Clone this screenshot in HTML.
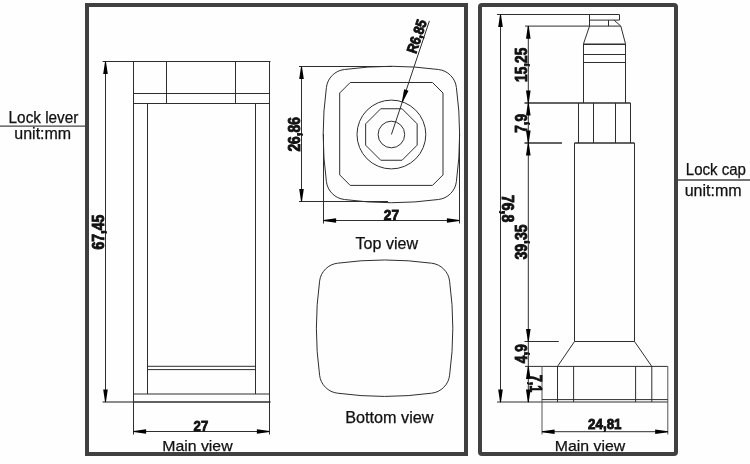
<!DOCTYPE html>
<html><head><meta charset="utf-8"><title>Lock dimensions</title>
<style>
html,body{margin:0;padding:0;background:#fefefe;}
body{width:750px;height:464px;overflow:hidden;}
svg{display:block;filter:grayscale(1);font-family:"Liberation Sans",sans-serif;fill:#111;}
</style></head><body>
<svg width="750" height="464" viewBox="0 0 750 464">
<g opacity="0.999">
<rect x="87" y="5" width="379" height="449" fill="none" stroke="#404040" stroke-width="4"/>
<rect x="480" y="5" width="196" height="449" fill="none" stroke="#404040" stroke-width="4" rx="2"/>
<line x1="0" y1="126.2" x2="85" y2="126.2" stroke="#444" stroke-width="1.3"/>
<line x1="678" y1="180" x2="750" y2="180" stroke="#444" stroke-width="1.3"/>
<text x="8.6" y="122.7" font-size="15.6" stroke="#111" stroke-width="0.25" textLength="69.8" lengthAdjust="spacingAndGlyphs" text-anchor="start">Lock lever</text>
<text x="14.3" y="139.4" font-size="15.6" stroke="#111" stroke-width="0.25" textLength="56.9" lengthAdjust="spacingAndGlyphs" text-anchor="start">unit:mm</text>
<text x="685.8" y="175" font-size="15.6" stroke="#111" stroke-width="0.25" textLength="60.2" lengthAdjust="spacingAndGlyphs" text-anchor="start">Lock cap</text>
<text x="684.7" y="196" font-size="15.6" stroke="#111" stroke-width="0.25" textLength="57" lengthAdjust="spacingAndGlyphs" text-anchor="start">unit:mm</text>
<line x1="102.6" y1="61.5" x2="270.5" y2="61.5" stroke="#2e2e2e" stroke-width="1"/>
<line x1="102.6" y1="402" x2="133.5" y2="402" stroke="#2e2e2e" stroke-width="1.1"/>
<line x1="133.5" y1="402" x2="270.5" y2="402" stroke="#2e2e2e" stroke-width="1.5"/>
<line x1="105.5" y1="61.5" x2="105.5" y2="402" stroke="#2e2e2e" stroke-width="1"/>
<polygon points="105.95,61.50 107.80,74.10 103.20,74.10 105.05,61.50" fill="#000"/>
<polygon points="105.05,402.00 103.20,389.40 107.80,389.40 105.95,402.00" fill="#000"/>
<line x1="133.5" y1="61.5" x2="133.5" y2="434.5" stroke="#2e2e2e" stroke-width="1"/>
<line x1="269.5" y1="61.5" x2="269.5" y2="434.5" stroke="#2e2e2e" stroke-width="1"/>
<line x1="166.5" y1="61.5" x2="166.5" y2="103.5" stroke="#2e2e2e" stroke-width="1"/>
<line x1="235.5" y1="61.5" x2="235.5" y2="103.5" stroke="#2e2e2e" stroke-width="1"/>
<line x1="133.5" y1="93.5" x2="269.5" y2="93.5" stroke="#2e2e2e" stroke-width="1"/>
<line x1="133.5" y1="103.5" x2="269.5" y2="103.5" stroke="#2e2e2e" stroke-width="1"/>
<line x1="147.5" y1="103.5" x2="147.5" y2="394" stroke="#2e2e2e" stroke-width="1"/>
<line x1="255.5" y1="103.5" x2="255.5" y2="394" stroke="#2e2e2e" stroke-width="1"/>
<line x1="147.5" y1="366.3" x2="255.5" y2="366.3" stroke="#2e2e2e" stroke-width="1"/>
<line x1="147.5" y1="369.6" x2="255.5" y2="369.6" stroke="#2e2e2e" stroke-width="1"/>
<line x1="133.5" y1="394" x2="269.5" y2="394" stroke="#2e2e2e" stroke-width="1"/>
<line x1="133.5" y1="431.5" x2="269.5" y2="431.5" stroke="#2e2e2e" stroke-width="1"/>
<polygon points="133.50,431.05 146.10,429.20 146.10,433.80 133.50,431.95" fill="#000"/>
<polygon points="269.50,431.95 256.90,433.80 256.90,429.20 269.50,431.05" fill="#000"/>
<text x="193.6" y="430.9" font-size="15.5" font-weight="bold" stroke="#111" stroke-width="0.9" textLength="14.6" lengthAdjust="spacingAndGlyphs" text-anchor="start">27</text>
<text x="162.2" y="451.4" font-size="15.4" stroke="#111" stroke-width="0.25" textLength="70.4" lengthAdjust="spacingAndGlyphs" text-anchor="start">Main view</text>
<text x="104.0" y="232.1" font-size="16.2" font-weight="bold" stroke="#111" stroke-width="0.9" textLength="35" lengthAdjust="spacingAndGlyphs" transform="rotate(-90 104.0 232.1)" text-anchor="middle">67,45</text>
<path d="M344.4,69.5 A346,346 0 0 1 438.4,69.5 A20.5,20.5 0 0 1 456.4,87.5 A346,346 0 0 1 456.4,181.5 A20.5,20.5 0 0 1 438.4,199.5 A346,346 0 0 1 344.4,199.5 A20.5,20.5 0 0 1 326.4,181.5 A346,346 0 0 1 326.4,87.5 A20.5,20.5 0 0 1 344.4,69.5 Z" fill="none" stroke="#2e2e2e" stroke-width="1"/>
<path d="M350.2,82.5 L432.5,82.5 L443.0,93.0 L443.0,174.9 L432.5,185.4 L350.2,185.4 L339.7,174.9 L339.7,93.0 Z" fill="none" stroke="#2e2e2e" stroke-width="1"/>
<circle cx="391.4" cy="134.5" r="34.4" fill="none" stroke="#2e2e2e"/>
<polygon points="380.73,108.75 402.07,108.75 417.15,123.83 417.15,145.17 402.07,160.25 380.73,160.25 365.65,145.17 365.65,123.83" fill="none" stroke="#2e2e2e"/>
<circle cx="391.4" cy="134.5" r="13.3" fill="none" stroke="#2e2e2e"/>
<line x1="391.40" y1="134.50" x2="429.41" y2="20.89" stroke="#2e2e2e" stroke-width="1"/>
<polygon points="401.89,101.73 404.13,89.20 408.49,90.66 402.74,102.02" fill="#000"/>
<text x="416.03" y="54.27" font-size="14.6" font-weight="bold" stroke="#111" stroke-width="0.9" textLength="34.4" lengthAdjust="spacingAndGlyphs" transform="rotate(-71.5 416.03 54.27)">R6,85</text>
<line x1="299" y1="66.5" x2="392" y2="66.5" stroke="#2e2e2e" stroke-width="1"/>
<line x1="299" y1="201.5" x2="388" y2="201.5" stroke="#2e2e2e" stroke-width="1"/>
<line x1="301.5" y1="66.5" x2="301.5" y2="201.5" stroke="#2e2e2e" stroke-width="1"/>
<polygon points="301.95,66.50 303.80,79.10 299.20,79.10 301.05,66.50" fill="#000"/>
<polygon points="301.05,201.50 299.20,188.90 303.80,188.90 301.95,201.50" fill="#000"/>
<text x="299.9" y="134.3" font-size="16.2" font-weight="bold" stroke="#111" stroke-width="0.9" textLength="34.6" lengthAdjust="spacingAndGlyphs" transform="rotate(-90 299.9 134.3)" text-anchor="middle">26,86</text>
<line x1="323.5" y1="134" x2="323.5" y2="223.5" stroke="#2e2e2e" stroke-width="1"/>
<line x1="459.5" y1="134" x2="459.5" y2="223.5" stroke="#2e2e2e" stroke-width="1"/>
<line x1="323.5" y1="220.5" x2="459.5" y2="220.5" stroke="#2e2e2e" stroke-width="1"/>
<polygon points="323.50,220.05 336.10,218.20 336.10,222.80 323.50,220.95" fill="#000"/>
<polygon points="459.50,220.95 446.90,222.80 446.90,218.20 459.50,220.05" fill="#000"/>
<text x="383.8" y="219.8" font-size="15.5" font-weight="bold" stroke="#111" stroke-width="0.9" textLength="15.2" lengthAdjust="spacingAndGlyphs" text-anchor="start">27</text>
<text x="355.6" y="248.7" font-size="15.6" stroke="#111" stroke-width="0.25" textLength="62.4" lengthAdjust="spacingAndGlyphs" text-anchor="start">Top view</text>
<path d="M337.6,263.2 A346,346 0 0 1 431.6,263.2 A20.5,20.5 0 0 1 449.6,281.2 A346,346 0 0 1 449.6,375.2 A20.5,20.5 0 0 1 431.6,393.2 A346,346 0 0 1 337.6,393.2 A20.5,20.5 0 0 1 319.6,375.2 A346,346 0 0 1 319.6,281.2 A20.5,20.5 0 0 1 337.6,263.2 Z" fill="none" stroke="#2e2e2e" stroke-width="1"/>
<text x="345.2" y="423.1" font-size="15.6" stroke="#111" stroke-width="0.25" textLength="88.3" lengthAdjust="spacingAndGlyphs" text-anchor="start">Bottom view</text>
<line x1="497" y1="14.5" x2="619.5" y2="14.5" stroke="#2e2e2e" stroke-width="1"/>
<line x1="497" y1="402" x2="667.8" y2="402" stroke="#2e2e2e" stroke-width="1.1"/>
<line x1="500.5" y1="14.5" x2="500.5" y2="402.2" stroke="#2e2e2e" stroke-width="1"/>
<polygon points="500.95,14.50 502.80,27.10 498.20,27.10 500.05,14.50" fill="#000"/>
<polygon points="500.05,402.20 498.20,389.60 502.80,389.60 500.95,402.20" fill="#000"/>
<text x="502.4" y="208.6" font-size="15.8" font-weight="bold" stroke="#111" stroke-width="0.9" textLength="27.4" lengthAdjust="spacingAndGlyphs" transform="rotate(90 502.4 208.6)" text-anchor="middle">76,8</text>
<line x1="589.5" y1="14.5" x2="589.5" y2="26.1" stroke="#2e2e2e" stroke-width="1"/>
<line x1="619.5" y1="14.5" x2="619.5" y2="20.1" stroke="#2e2e2e" stroke-width="1"/>
<line x1="589.5" y1="20.1" x2="619.5" y2="20.1" stroke="#2e2e2e" stroke-width="1"/>
<line x1="608.5" y1="20.1" x2="608.5" y2="26.1" stroke="#2e2e2e" stroke-width="1"/>
<line x1="614" y1="20.1" x2="620.8" y2="26.1" stroke="#2e2e2e" stroke-width="1"/>
<line x1="525" y1="26.1" x2="620.8" y2="26.1" stroke="#2e2e2e" stroke-width="1"/>
<line x1="589.5" y1="26.1" x2="583.5" y2="43.8" stroke="#2e2e2e" stroke-width="1"/>
<line x1="620.8" y1="26.1" x2="625.5" y2="43.8" stroke="#2e2e2e" stroke-width="1"/>
<line x1="583.5" y1="43.8" x2="583.5" y2="103" stroke="#2e2e2e" stroke-width="1"/>
<line x1="625.5" y1="43.8" x2="625.5" y2="103" stroke="#2e2e2e" stroke-width="1"/>
<line x1="583.5" y1="44.3" x2="625.5" y2="44.3" stroke="#2e2e2e" stroke-width="1.4"/>
<line x1="583.5" y1="54.5" x2="625.5" y2="54.5" stroke="#2e2e2e" stroke-width="1"/>
<line x1="583.5" y1="62.5" x2="625.5" y2="62.5" stroke="#2e2e2e" stroke-width="1"/>
<line x1="524.5" y1="103" x2="630.5" y2="103" stroke="#2e2e2e" stroke-width="1.5"/>
<line x1="578.5" y1="103" x2="578.5" y2="143" stroke="#2e2e2e" stroke-width="1"/>
<line x1="630.5" y1="103" x2="630.5" y2="143" stroke="#2e2e2e" stroke-width="1"/>
<line x1="593.5" y1="103" x2="593.5" y2="143" stroke="#2e2e2e" stroke-width="1"/>
<line x1="615.5" y1="103" x2="615.5" y2="143" stroke="#2e2e2e" stroke-width="1"/>
<line x1="524.5" y1="143" x2="562" y2="143" stroke="#2e2e2e" stroke-width="1.4"/>
<line x1="574.5" y1="143" x2="634.5" y2="143" stroke="#2e2e2e" stroke-width="1.4"/>
<line x1="574.5" y1="143" x2="574.5" y2="341.5" stroke="#2e2e2e" stroke-width="1"/>
<line x1="634.5" y1="143" x2="634.5" y2="341.5" stroke="#2e2e2e" stroke-width="1"/>
<line x1="524.5" y1="341.5" x2="558.8" y2="341.5" stroke="#2e2e2e" stroke-width="1"/>
<line x1="574.5" y1="341.5" x2="634.5" y2="341.5" stroke="#2e2e2e" stroke-width="1"/>
<line x1="574.5" y1="341.5" x2="557.5" y2="366.4" stroke="#2e2e2e" stroke-width="1"/>
<line x1="634.5" y1="341.5" x2="651.8" y2="366.4" stroke="#2e2e2e" stroke-width="1"/>
<line x1="525" y1="366.4" x2="667.8" y2="366.4" stroke="#2e2e2e" stroke-width="1"/>
<line x1="542" y1="366.4" x2="542" y2="434.5" stroke="#555" stroke-width="1"/>
<line x1="667.8" y1="366.4" x2="667.8" y2="434.5" stroke="#555" stroke-width="1"/>
<line x1="557.5" y1="366.4" x2="557.5" y2="402" stroke="#2e2e2e" stroke-width="1"/>
<line x1="573.6" y1="366.4" x2="573.6" y2="402" stroke="#2e2e2e" stroke-width="1"/>
<line x1="635.6" y1="366.4" x2="635.6" y2="402" stroke="#2e2e2e" stroke-width="1"/>
<line x1="651.8" y1="366.4" x2="651.8" y2="402" stroke="#2e2e2e" stroke-width="1"/>
<line x1="542" y1="399.6" x2="667.8" y2="399.6" stroke="#2e2e2e" stroke-width="1"/>
<line x1="528.3" y1="26.1" x2="528.3" y2="402.2" stroke="#2e2e2e" stroke-width="1"/>
<polygon points="528.75,26.10 530.60,38.70 526.00,38.70 527.85,26.10" fill="#000"/>
<polygon points="527.85,103.00 526.00,90.40 530.60,90.40 528.75,103.00" fill="#000"/>
<polygon points="528.75,103.00 530.60,115.60 526.00,115.60 527.85,103.00" fill="#000"/>
<polygon points="527.85,143.00 526.00,130.40 530.60,130.40 528.75,143.00" fill="#000"/>
<polygon points="528.75,143.00 530.60,155.60 526.00,155.60 527.85,143.00" fill="#000"/>
<polygon points="527.85,341.50 526.00,328.90 530.60,328.90 528.75,341.50" fill="#000"/>
<polygon points="528.75,366.40 530.60,379.00 526.00,379.00 527.85,366.40" fill="#000"/>
<polygon points="527.85,402.20 526.00,389.60 530.60,389.60 528.75,402.20" fill="#000"/>
<text x="526.8" y="64.8" font-size="16.2" font-weight="bold" stroke="#111" stroke-width="0.9" textLength="34.2" lengthAdjust="spacingAndGlyphs" transform="rotate(-90 526.8 64.8)" text-anchor="middle">15,25</text>
<text x="526.8" y="123.3" font-size="16.2" font-weight="bold" stroke="#111" stroke-width="0.9" textLength="18.8" lengthAdjust="spacingAndGlyphs" transform="rotate(-90 526.8 123.3)" text-anchor="middle">7,9</text>
<text x="526.8" y="242" font-size="16.2" font-weight="bold" stroke="#111" stroke-width="0.9" textLength="34.9" lengthAdjust="spacingAndGlyphs" transform="rotate(-90 526.8 242)" text-anchor="middle">39,35</text>
<text x="526.8" y="353.7" font-size="16.2" font-weight="bold" stroke="#111" stroke-width="0.9" textLength="19" lengthAdjust="spacingAndGlyphs" transform="rotate(-90 526.8 353.7)" text-anchor="middle">4,9</text>
<text x="530.3" y="383.6" font-size="16" font-weight="bold" stroke="#111" stroke-width="0.9" textLength="17.8" lengthAdjust="spacingAndGlyphs" transform="rotate(90 530.3 383.6)" text-anchor="middle">7,1</text>
<line x1="542" y1="431.7" x2="667.8" y2="431.7" stroke="#2e2e2e" stroke-width="1"/>
<polygon points="542.00,431.25 554.60,429.40 554.60,434.00 542.00,432.15" fill="#000"/>
<polygon points="667.80,432.15 655.20,434.00 655.20,429.40 667.80,431.25" fill="#000"/>
<text x="588.1" y="429.3" font-size="15.5" font-weight="bold" stroke="#111" stroke-width="0.9" textLength="33.4" lengthAdjust="spacingAndGlyphs" text-anchor="start">24,81</text>
<text x="554.8" y="451.4" font-size="15.4" stroke="#111" stroke-width="0.25" textLength="70.4" lengthAdjust="spacingAndGlyphs" text-anchor="start">Main view</text>
</g>
</svg>
</body></html>
